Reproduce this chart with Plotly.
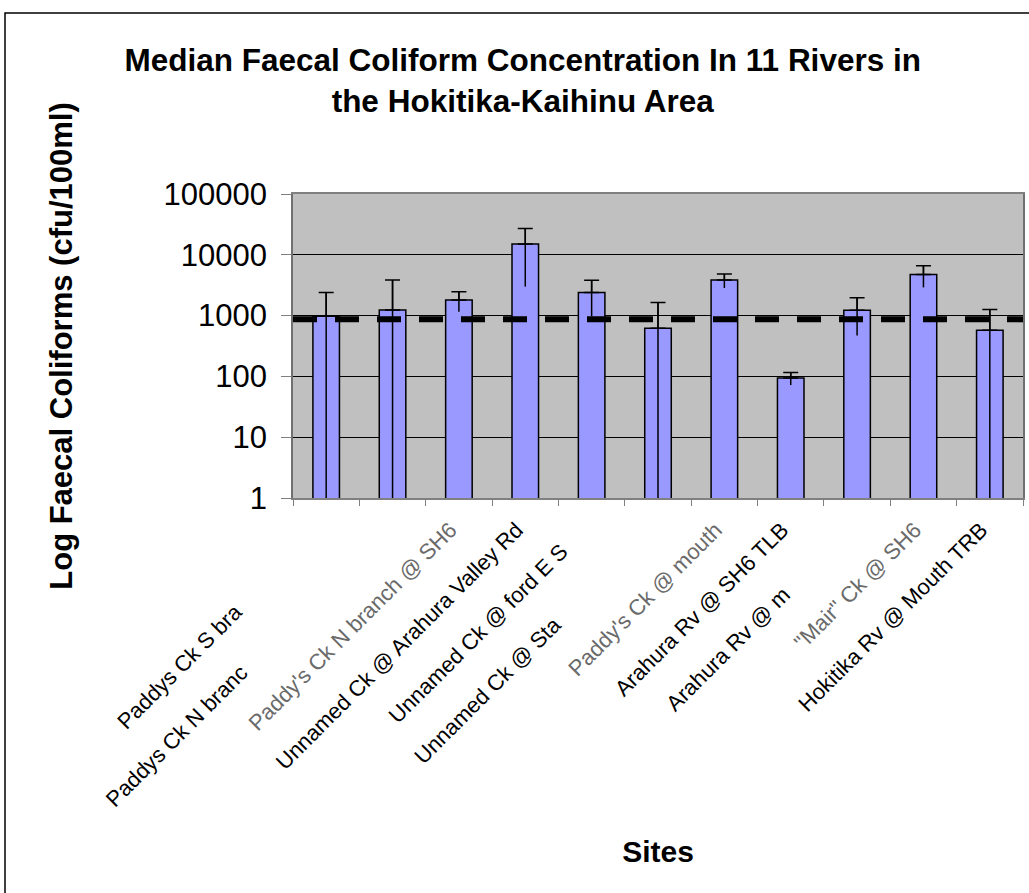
import plotly.graph_objects as go

# ---------------- data ----------------
SITES = [
    "Paddys Ck S bra",
    "Paddys Ck N branc",
    "Paddy's Ck N branch @ SH6",
    "Unnamed Ck @ Arahura Valley Rd",
    "Unnamed Ck @ ford E S",
    "Unnamed Ck @ Sta",
    "Paddy's Ck @ mouth",
    "Arahura Rv @ SH6 TLB",
    "Arahura Rv @ m",
    "\"Mair\" Ck @ SH6",
    "Hokitika Rv @ Mouth TRB",
]
MEDIAN = [980, 1240, 1810, 15000, 2400, 620, 3850, 94, 1220, 4760, 574]
ERROR = [1420, 2610, 650, 12000, 1420, 1030, 1000, 22, 750, 1850, 686]
GUIDELINE = 870
Y_TICKS = [1, 10, 100, 1000, 10000, 100000]

TITLE = "Median Faecal Coliform Concentration In 11 Rivers in<br>the Hokitika-Kaihinu Area"
Y_TITLE = "Log Faecal Coliforms (cfu/100ml)"
X_TITLE = "Sites"

# ---------------- styling ----------------
FONT = "Liberation Sans, Arial, sans-serif"
W, H = 1029, 893
L, R, T, B = 293, 6, 194, 395
PLOT_W, PLOT_H = W - L - R, H - T - B

# label rendering quirks of the original (partly hidden / faint labels)
LABEL_PAD = [21, 35, 2, 2, 7, 24, 2, 2, 17, 2, 2]
LABEL_FAINT = [False, False, True, False, False, False, True, False, False, True, False]

ticktext = []
for name, pad, faint in zip(SITES, LABEL_PAD, LABEL_FAINT):
    t = name + "\u00a0" * pad
    if faint:
        t = "<span style='color:#6a6a6a'>" + t + "</span>"
    ticktext.append(t)

fig = go.Figure()

# bars with the full error line (no caps)
fig.add_trace(go.Bar(
    x=SITES, y=MEDIAN,
    marker=dict(color="#9999FF", line=dict(color="black", width=1.5)),
    error_y=dict(type="data", array=ERROR, symmetric=True,
                 color="black", thickness=1.5, width=0),
    hoverinfo="x+y",
))
# upper caps only
fig.add_trace(go.Scatter(
    x=SITES, y=MEDIAN, mode="markers",
    marker=dict(size=1, opacity=0),
    error_y=dict(type="data", array=ERROR, arrayminus=[0] * len(ERROR),
                 symmetric=False, color="black", thickness=1.5, width=7.5),
    hoverinfo="skip",
))
# guideline dashed line across the whole plot area
fig.add_trace(go.Scatter(
    x=[0, 1], y=[GUIDELINE, GUIDELINE], xaxis="x2", yaxis="y",
    mode="lines", line=dict(color="black", width=6, dash="24px,18px"),
    hoverinfo="skip",
))

fig.update_layout(
    width=W, height=H,
    margin=dict(l=L, r=R, t=T, b=B, autoexpand=False),
    paper_bgcolor="white", plot_bgcolor="#C0C0C0",
    showlegend=False, bargap=0.6,
    title=dict(text=TITLE, x=0.508, xref="container", xanchor="center",
               y=1 - 71 / H, yref="container", yanchor="top",
               font=dict(family=FONT, size=31.5, color="black", weight="bold")),
    xaxis=dict(
        type="category", range=[-0.5, len(SITES) - 0.5],
        tickson="boundaries", ticks="outside", ticklen=6, tickcolor="#808080",
        showline=True, linecolor="#808080", linewidth=1.5, mirror=True,
        showgrid=False, tickangle=-45,
        tickvals=SITES, ticktext=ticktext,
        tickfont=dict(family=FONT, size=22, color="black"),
        title=dict(text=X_TITLE, standoff=30,
                   font=dict(family=FONT, size=30, color="black", weight="bold")),
    ),
    xaxis2=dict(overlaying="x", range=[0, 1], visible=False),
    yaxis=dict(
        type="log", range=[0, 5],
        tickvals=Y_TICKS, ticktext=[str(v) for v in Y_TICKS],
        ticks="outside", ticklen=10, tickcolor="#808080",
        showline=True, linecolor="#707070", linewidth=1.5, mirror=True,
        showgrid=True, gridcolor="black", gridwidth=1,
        ticklabelstandoff=8,
        tickfont=dict(family=FONT, size=31, color="black"),
        title=dict(text=Y_TITLE, standoff=82,
                   font=dict(family=FONT, size=31, color="black", weight="bold")),
    ),
    shapes=[dict(
        type="rect", xref="paper", yref="paper",
        x0=(5 - L) / PLOT_W, x1=(W + 10 - L) / PLOT_W,
        y0=(H - B - 13) / PLOT_H, y1=(H - B - (H + 10)) / PLOT_H,
        line=dict(color="black", width=1.5), fillcolor="rgba(0,0,0,0)",
        layer="above",
    )],
)

fig.write_html(
    "out.html",
    config={"displayModeBar": False},
    post_script="document.body.style.margin='0';document.body.style.padding='0';"
                "document.documentElement.style.overflow='hidden';",
)
